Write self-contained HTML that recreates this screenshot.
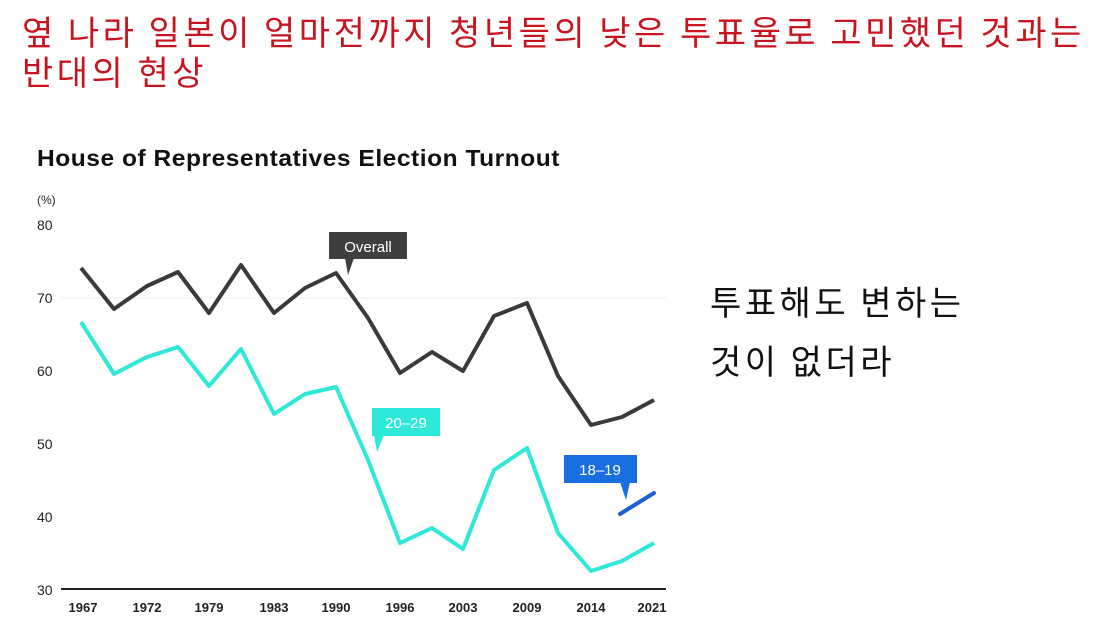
<!DOCTYPE html>
<html><head><meta charset="utf-8"><style>
body{margin:0;width:1098px;height:643px;background:#fff;overflow:hidden;position:relative;font-family:"Liberation Sans","Noto Sans CJK KR",sans-serif}
.t{position:absolute;left:22px;top:11px;color:#c8141e;font-size:34px;line-height:40px;font-family:"Noto Sans CJK KR",sans-serif;letter-spacing:3.5px;white-space:nowrap}
.r{position:absolute;left:710px;color:#111;font-size:34px;font-family:"Noto Sans CJK KR",sans-serif;letter-spacing:3.5px;white-space:nowrap}
</style></head><body>
<div class="t">옆 나라 일본이 얼마전까지 청년들의 낮은 투표율로 고민했던 것과는<br>반대의 현상</div>
<div class="r" style="top:276px">투표해도 변하는</div>
<div class="r" style="top:335px">것이 없더라</div>
<svg width="1098" height="643" style="position:absolute;left:0;top:0" font-family="Liberation Sans, sans-serif">
<text x="37" y="166" font-size="23" font-weight="bold" fill="#111" letter-spacing="0.5" textLength="523" lengthAdjust="spacingAndGlyphs">House of Representatives Election Turnout</text>
<text x="37" y="204" font-size="12" fill="#222">(%)</text>
<g font-size="14" fill="#222">
<text x="37" y="230">80</text><text x="37" y="303">70</text><text x="37" y="376">60</text><text x="37" y="449">50</text><text x="37" y="522">40</text><text x="37" y="595">30</text>
</g>
<line x1="61" y1="298" x2="666" y2="298" stroke="#eee" stroke-width="1"/>
<line x1="61" y1="589" x2="666" y2="589" stroke="#222" stroke-width="2"/>
<g font-size="13" fill="#222" text-anchor="middle" font-weight="bold">
<text x="83" y="612">1967</text><text x="147" y="612">1972</text><text x="209" y="612">1979</text><text x="274" y="612">1983</text><text x="336" y="612">1990</text><text x="400" y="612">1996</text><text x="463" y="612">2003</text><text x="527" y="612">2009</text><text x="591" y="612">2014</text><text x="652" y="612">2021</text>
</g>
<polyline fill="none" stroke="#3a3a3a" stroke-width="4" stroke-linejoin="round" points="81,268 114,309 147,286 178,272 209,313 241,265 274,313 305,288 336,273 368,318 400,373 432,352 463,371 494,316 527,303 558,376 591,425 622,417 654,400"/>
<polyline fill="none" stroke="#2ee8d8" stroke-width="4" stroke-linejoin="round" points="81,322 114,374 147,357 178,347 209,386 241,349 274,414 305,394 336,387 368,460 400,543 432,528 463,549 494,470 527,448 558,533 591,571 622,561 654,543"/>
<line x1="620" y1="514" x2="654" y2="493" stroke="#1a5fd6" stroke-width="4" stroke-linecap="round"/>
<rect x="329" y="232" width="78" height="27" fill="#3f3f3f"/>
<polygon points="345,258 354,258 348,275" fill="#3f3f3f"/>
<text x="368" y="252" font-size="15" fill="#fff" text-anchor="middle">Overall</text>
<rect x="372" y="408" width="68" height="28" fill="#2ee8d8"/>
<polygon points="374,435 384,435 377,452" fill="#2ee8d8"/>
<text x="406" y="428" font-size="15" fill="#fff" text-anchor="middle">20–29</text>
<rect x="564" y="455" width="73" height="28" fill="#1a6fe0"/>
<polygon points="620,482 630,482 626,500" fill="#1a6fe0"/>
<text x="600" y="475" font-size="15" fill="#fff" text-anchor="middle">18–19</text>
</svg>
</body></html>
